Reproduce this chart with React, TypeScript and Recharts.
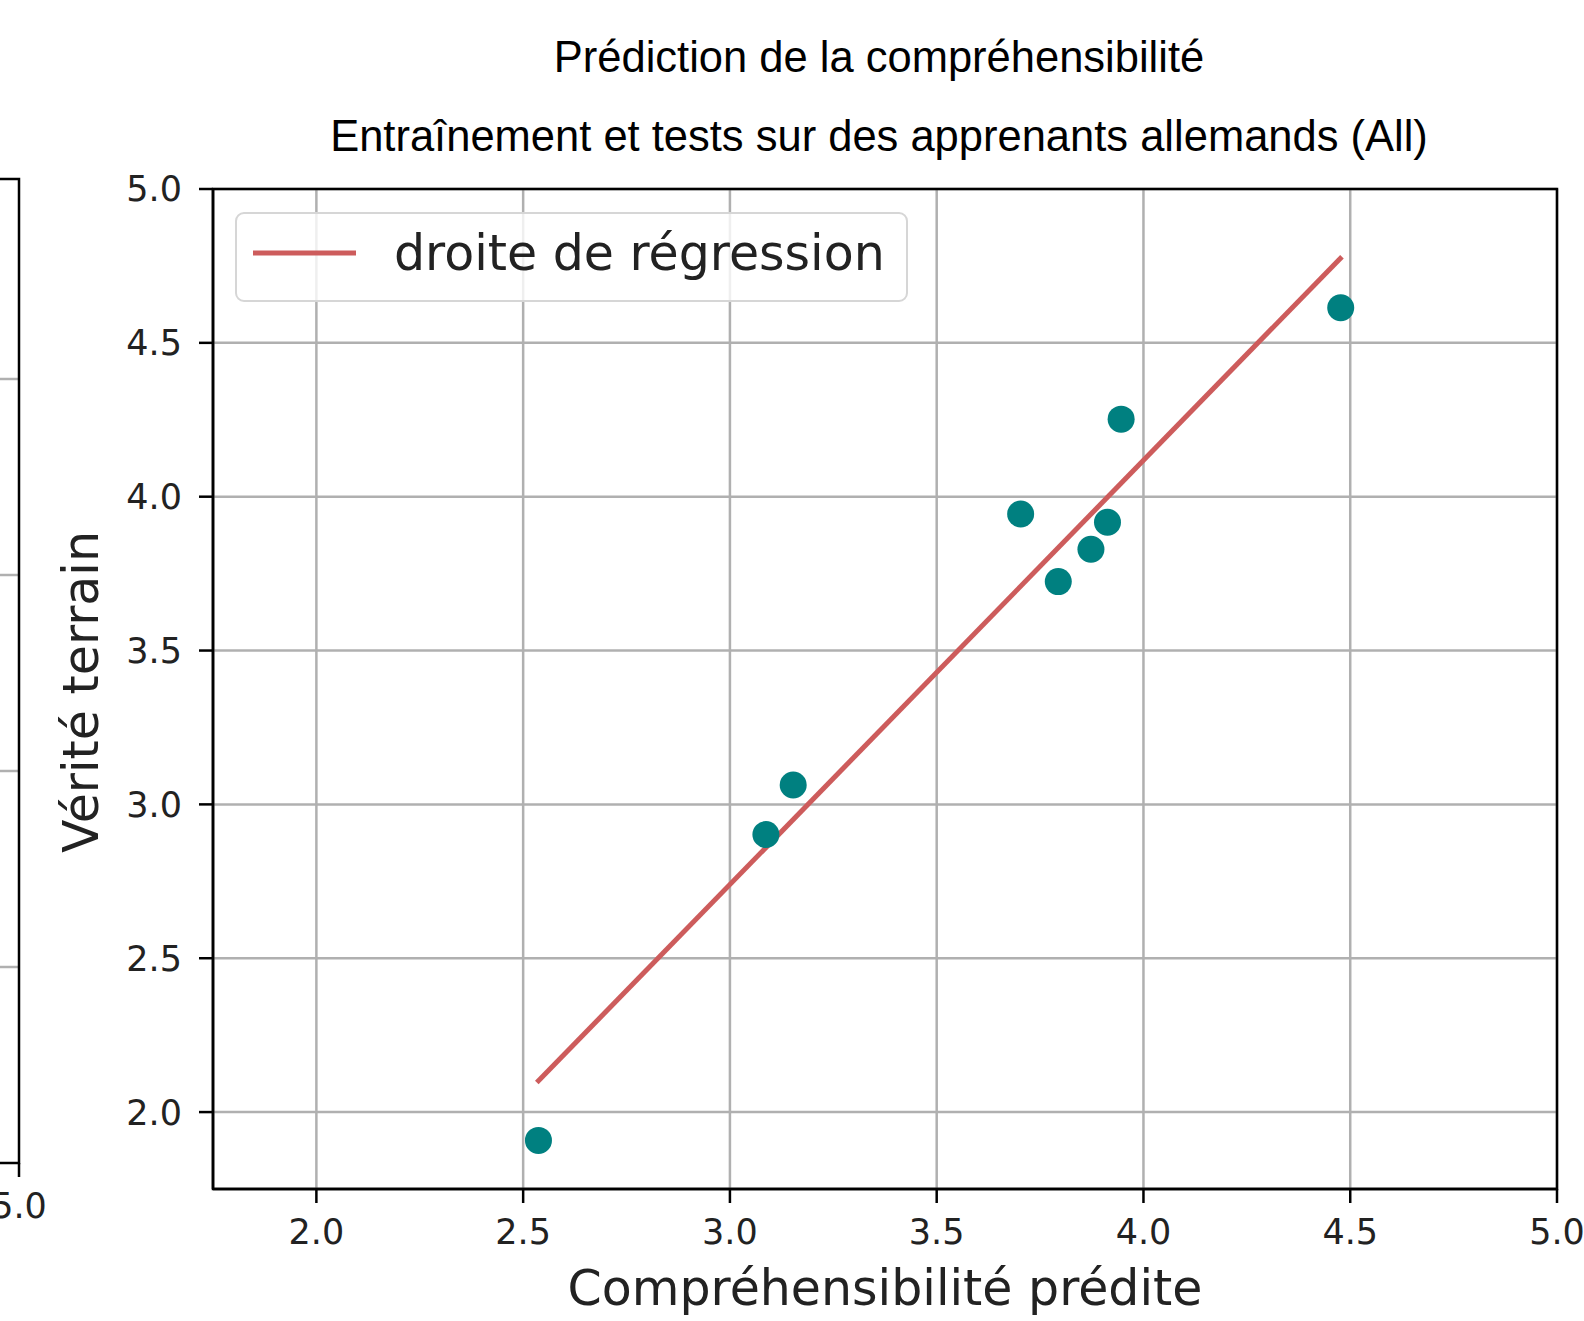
import React from 'react';
import {
  ComposedChart,
  Scatter,
  XAxis,
  YAxis,
  CartesianGrid,
  ReferenceArea,
} from 'recharts';

const predicted = [2.537, 3.087, 3.153, 3.703, 3.794, 3.873, 3.913, 3.946, 4.477];
const groundTruth = [1.908, 2.902, 3.063, 3.944, 3.724, 3.829, 3.917, 4.252, 4.614];

// regression line endpoints
const fitX = [2.533, 4.48];
const fitY = [2.096, 4.78];

const ticks = [2.0, 2.5, 3.0, 3.5, 4.0, 4.5, 5.0];
const leftRemnantTicks = [379, 575, 771, 967];

const points = predicted.map((x, i) => ({ x, y: groundTruth[i] }));
const fitLine = fitX.map((x, i) => ({ x, y: fitY[i] }));

const TEAL = '#008080';
const RED = '#CD5C5C';
const MPL = '"DejaVu Sans", sans-serif';
const ARIAL = '"Liberation Sans", Arial, sans-serif';

const tickStyle = { fill: '#222', fontSize: 35, fontFamily: MPL };

const App: React.FC = () => {
  return (
    <div
      style={{
        position: 'absolute',
        left: 0,
        top: 0,
        width: 1584,
        height: 1321,
        background: '#fff',
        overflow: 'hidden',
      }}
    >
      <ComposedChart
        width={1584}
        height={1321}
        margin={{ top: 189, right: 27, bottom: 0, left: 0 }}
      >
        <CartesianGrid stroke="#b0b0b0" strokeWidth={2.5} />
        <XAxis
          type="number"
          dataKey="x"
          domain={[1.75, 5]}
          ticks={ticks}
          tickFormatter={(v: number) => v.toFixed(1)}
          allowDataOverflow
          height={132}
          tickSize={14}
          tickMargin={16}
          tick={tickStyle}
          tickLine={{ stroke: '#000', strokeWidth: 2.5 }}
          axisLine={{ stroke: '#000', strokeWidth: 2.5 }}
        />
        <YAxis
          type="number"
          dataKey="y"
          domain={[1.75, 5]}
          ticks={ticks}
          tickFormatter={(v: number) => v.toFixed(1)}
          allowDataOverflow
          width={213}
          tickSize={14}
          tickMargin={17}
          tick={tickStyle}
          tickLine={{ stroke: '#000', strokeWidth: 2.5 }}
          axisLine={{ stroke: '#000', strokeWidth: 2.5 }}
        />
        <ReferenceArea
          x1={1.75}
          x2={5}
          y1={1.75}
          y2={5}
          fill="none"
          stroke="#000"
          strokeWidth={2.5}
          ifOverflow="visible"
        />
        <Scatter
          data={fitLine}
          line={{ stroke: RED, strokeWidth: 5 }}
          shape={() => <g />}
          isAnimationActive={false}
        />
        <Scatter
          data={points}
          fill={TEAL}
          shape={(p: any) => <circle cx={p.cx} cy={p.cy} r={13.5} fill={TEAL} />}
          isAnimationActive={false}
        />
      </ComposedChart>

      {/* text and the edge of the neighbouring subplot */}
      <svg
        width={1584}
        height={1321}
        style={{ position: 'absolute', left: 0, top: 0, pointerEvents: 'none' }}
      >
        <text x={879} y={72} textAnchor="middle" fontFamily={ARIAL} fontSize={43.5} fill="#000">
          Prédiction de la compréhensibilité
        </text>
        <text x={879} y={151} textAnchor="middle" fontFamily={ARIAL} fontSize={43.5} fill="#000">
          Entraînement et tests sur des apprenants allemands (All)
        </text>
        <text x={885} y={1305} textAnchor="middle" fontFamily={MPL} fontSize={49} fill="#222">
          Compréhensibilité prédite
        </text>
        <text
          transform="translate(98, 692) rotate(-90)"
          textAnchor="middle"
          fontFamily={MPL}
          fontSize={49}
          fill="#222"
        >
          Vérité terrain
        </text>

        {/* legend */}
        <rect x={236} y={213} width={671} height={88} rx={8} fill="#fff" fillOpacity={0.8} stroke="#d6d6d6" strokeWidth={2} />
        <line x1={253} y1={253} x2={356} y2={253} stroke={RED} strokeWidth={5} />
        <text x={394} y={270} fontFamily={MPL} fontSize={49} fill="#222">
          droite de régression
        </text>

        {/* neighbouring subplot remnant */}
        {leftRemnantTicks.map((y) => (
          <line key={y} x1={0} y1={y} x2={19} y2={y} stroke="#b0b0b0" strokeWidth={2.5} />
        ))}
        <polyline points="0,179 19,179 19,1163 0,1163" fill="none" stroke="#000" strokeWidth={2.5} />
        <line x1={19} y1={1163} x2={19} y2={1177} stroke="#000" strokeWidth={2.5} />
        <text x={19} y={1218} textAnchor="middle" fontFamily={MPL} fontSize={35} fill="#222">
          5.0
        </text>
      </svg>
    </div>
  );
};

export default App;
